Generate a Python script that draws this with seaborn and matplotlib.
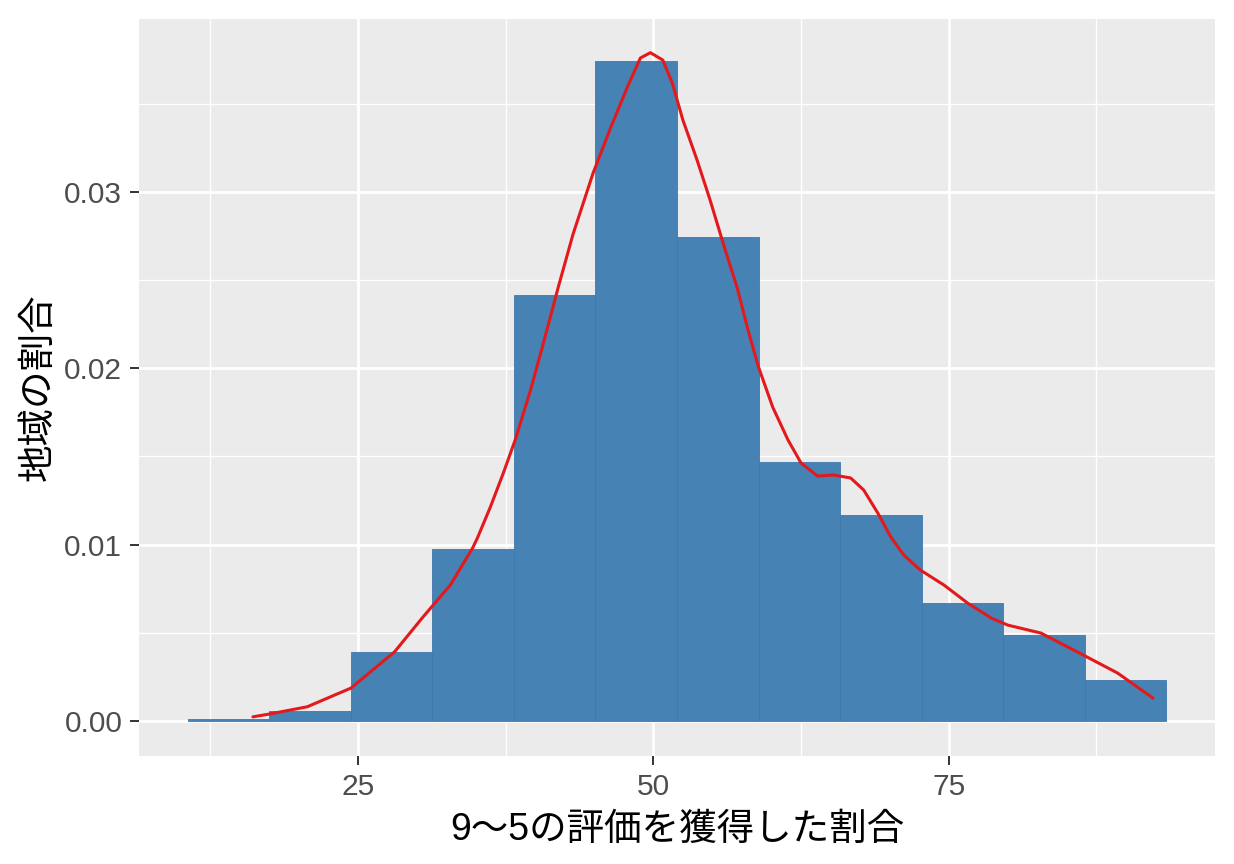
import matplotlib
matplotlib.use("Agg")
import matplotlib.pyplot as plt
import seaborn as sns
import numpy as np
import pandas as pd

# ---- data ----
bin_edges = [10.6, 17.5, 24.4, 31.3, 38.2, 45.1, 52.0, 58.9, 65.8, 72.7, 79.6, 86.5, 93.4]
bin_density = [0.00012, 0.00055, 0.0039, 0.00975, 0.02415, 0.03743, 0.02745,
               0.0147, 0.01168, 0.0067, 0.0049, 0.00232]

kde_x = [16.1, 17.5, 20.7, 24.4, 28.1, 30.5, 32.8, 34.7, 35.1, 36.2, 37.3, 38.3,
         39.6, 40.6, 41.95, 43.2, 44.9, 46.4, 47.8, 48.9, 49.75, 50.8, 51.6,
         52.5, 53.7, 54.8, 55.9, 57.1, 58.0, 58.9, 60.1, 61.4, 62.5, 63.9,
         65.25, 66.7, 67.8, 69.0, 70.1, 71.2, 72.6, 74.6, 76.6, 78.6, 80.0,
         82.8, 86.4, 89.3, 92.3]
kde_y = [0.00024, 0.0004, 0.00081, 0.00187, 0.00393, 0.0059, 0.0077, 0.00981,
         0.01037, 0.01213, 0.01406, 0.01593, 0.01876, 0.0212, 0.0246, 0.0276,
         0.03107, 0.03367, 0.03594, 0.03759, 0.03789, 0.03747, 0.03617, 0.03407,
         0.0318, 0.02954, 0.0271, 0.02455, 0.0222, 0.02007, 0.0178, 0.01593,
         0.01463, 0.01389, 0.01395, 0.01378, 0.0131, 0.01179, 0.01043, 0.00941,
         0.00856, 0.00771, 0.00669, 0.00584, 0.00544, 0.00499, 0.00374, 0.00272,
         0.0013]

x_ticks = [25, 50, 75]
y_ticks = [0.00, 0.01, 0.02, 0.03]
y_tick_labels = ["0.00", "0.01", "0.02", "0.03"]
x_label = "9〜5の評価を獲得した割合"
y_label = "地域の割合"

sns.set_theme(style="darkgrid")
plt.rcParams["font.family"] = ["Liberation Sans", "Noto Sans CJK JP", "DejaVu Sans"]

W, H = 1234, 864
fig = plt.figure(figsize=(W / 100, H / 100), dpi=100)
fig.patch.set_facecolor("white")
ax = fig.add_axes([139 / W, 1 - 756 / H, (1215 - 139) / W, (756 - 19) / H])
ax.set_facecolor("#EBEBEB")

centers = [(bin_edges[i] + bin_edges[i + 1]) / 2 for i in range(len(bin_density))]
hist_df = pd.DataFrame({"x": centers, "w": bin_density})
sns.histplot(data=hist_df, x="x", weights="w", bins=bin_edges, stat="count",
             color="#4682B4", edgecolor="#4079AA", linewidth=0.6, alpha=1.0,
             ax=ax, zorder=2)

kde_df = pd.DataFrame({"x": kde_x, "y": kde_y})
sns.lineplot(data=kde_df, x="x", y="y", color="#E3191C", linewidth=2.2,
             ax=ax, zorder=3, sort=False)

ax.set_xlim(6.46, 97.54)
ax.set_ylim(-0.00198, 0.0398)

ax.set_xticks(x_ticks)
ax.set_xticklabels([str(t) for t in x_ticks])
ax.set_yticks(y_ticks)
ax.set_yticklabels(y_tick_labels)
ax.set_xticks([12.5, 37.5, 62.5, 87.5], minor=True)
ax.set_yticks([0.005, 0.015, 0.025, 0.035], minor=True)

ax.grid(which="major", color="white", linewidth=2.0, zorder=0)
ax.grid(which="minor", color="white", linewidth=1.0, zorder=0)
ax.set_axisbelow(True)
for s in ax.spines.values():
    s.set_visible(False)

ax.tick_params(axis="both", which="major", length=6.5, width=1.4, color="#333333",
               labelsize=21.5, labelcolor="#4D4D4D", pad=5.5, bottom=True, left=True)
ax.tick_params(axis="both", which="minor", length=0)

ax.set_xlabel(x_label, fontsize=27, color="black", labelpad=8,
              family=["Liberation Sans", "Noto Sans CJK JP"])
ax.set_ylabel(y_label, fontsize=27, color="black", labelpad=5,
              family=["Noto Sans CJK JP"])

fig.savefig("out.png", dpi=100, facecolor="white")
